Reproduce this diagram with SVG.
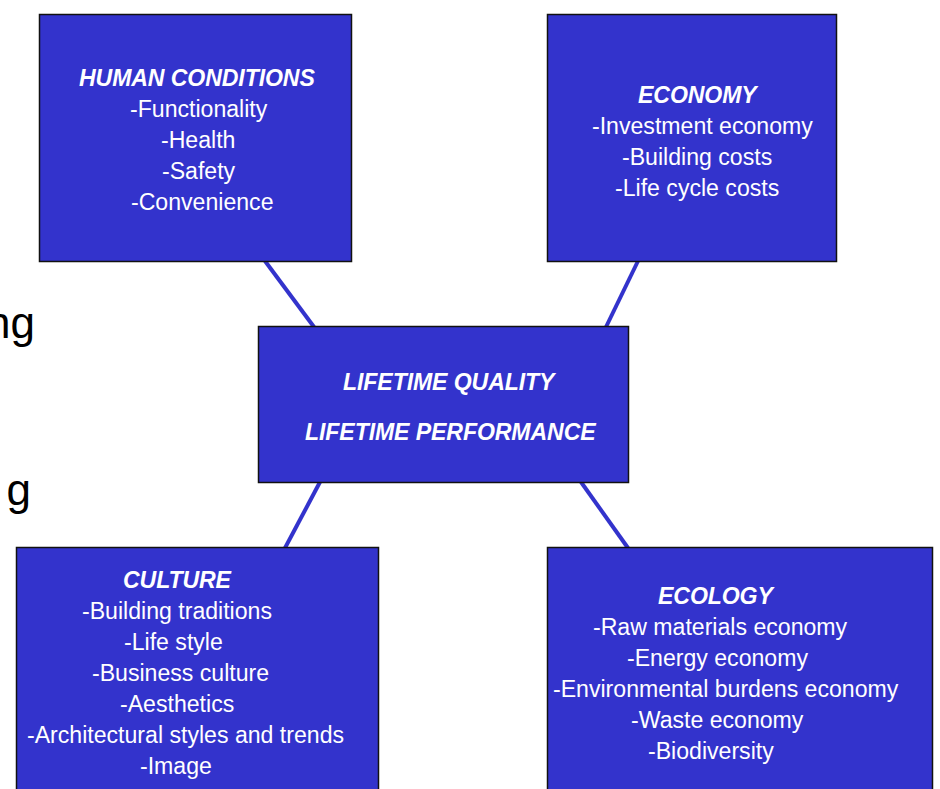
<svg xmlns="http://www.w3.org/2000/svg" width="940" height="789" viewBox="0 0 940 789">
<style>
.box{fill:#3333CC;stroke:#111;stroke-width:1.5}
.t{font-family:"Liberation Sans",Arial,sans-serif;font-size:23.1px;fill:#fff}
.h{font-weight:bold;font-style:italic;letter-spacing:-0.1px}
.side{font-family:"Liberation Sans",Arial,sans-serif;font-size:44px;fill:#000}
.con{stroke:#3333CC;stroke-width:4;fill:none}
</style>
<rect width="940" height="789" fill="#fff"/>
<text class="side" x="35" y="338" text-anchor="end">ng</text>
<text class="side" x="31" y="505" text-anchor="end">g</text>
<g id="connectors">
<line class="con" x1="265" y1="261" x2="314" y2="327"/>
<line class="con" x1="638" y1="261" x2="606" y2="327"/>
<line class="con" x1="320" y1="482" x2="285" y2="548"/>
<line class="con" x1="581" y1="482" x2="628" y2="548"/>
</g>
<g id="human">
<rect class="box" x="39.5" y="14.5" width="312" height="247"/>
<text class="t h" x="79" y="86">HUMAN CONDITIONS</text>
<text class="t" x="130" y="117">-Functionality</text>
<text class="t" x="161" y="148">-Health</text>
<text class="t" x="162" y="179">-Safety</text>
<text class="t" x="131" y="210">-Convenience</text>
</g>
<g id="economy">
<rect class="box" x="547.5" y="14.5" width="289" height="247"/>
<text class="t h" x="638" y="103">ECONOMY</text>
<text class="t" x="592" y="134">-Investment economy</text>
<text class="t" x="622" y="165">-Building costs</text>
<text class="t" x="615" y="196">-Life cycle costs</text>
</g>
<g id="center">
<rect class="box" x="258.5" y="326.5" width="370" height="156"/>
<text class="t h" x="343" y="390">LIFETIME QUALITY</text>
<text class="t h" x="305" y="440">LIFETIME PERFORMANCE</text>
</g>
<g id="culture">
<rect class="box" x="16.5" y="547.5" width="362" height="250"/>
<text class="t h" x="123" y="588">CULTURE</text>
<text class="t" x="82" y="619">-Building traditions</text>
<text class="t" x="124" y="650">-Life style</text>
<text class="t" x="92" y="681">-Business culture</text>
<text class="t" x="120" y="712">-Aesthetics</text>
<text class="t" x="27" y="743">-Architectural styles and trends</text>
<text class="t" x="140" y="774">-Image</text>
</g>
<g id="ecology">
<rect class="box" x="547.5" y="547.5" width="385" height="250"/>
<text class="t h" x="658" y="604">ECOLOGY</text>
<text class="t" x="593" y="635">-Raw materials economy</text>
<text class="t" x="627" y="666">-Energy economy</text>
<text class="t" x="553" y="697">-Environmental burdens economy</text>
<text class="t" x="631" y="728">-Waste economy</text>
<text class="t" x="648" y="759">-Biodiversity</text>
</g>
</svg>
